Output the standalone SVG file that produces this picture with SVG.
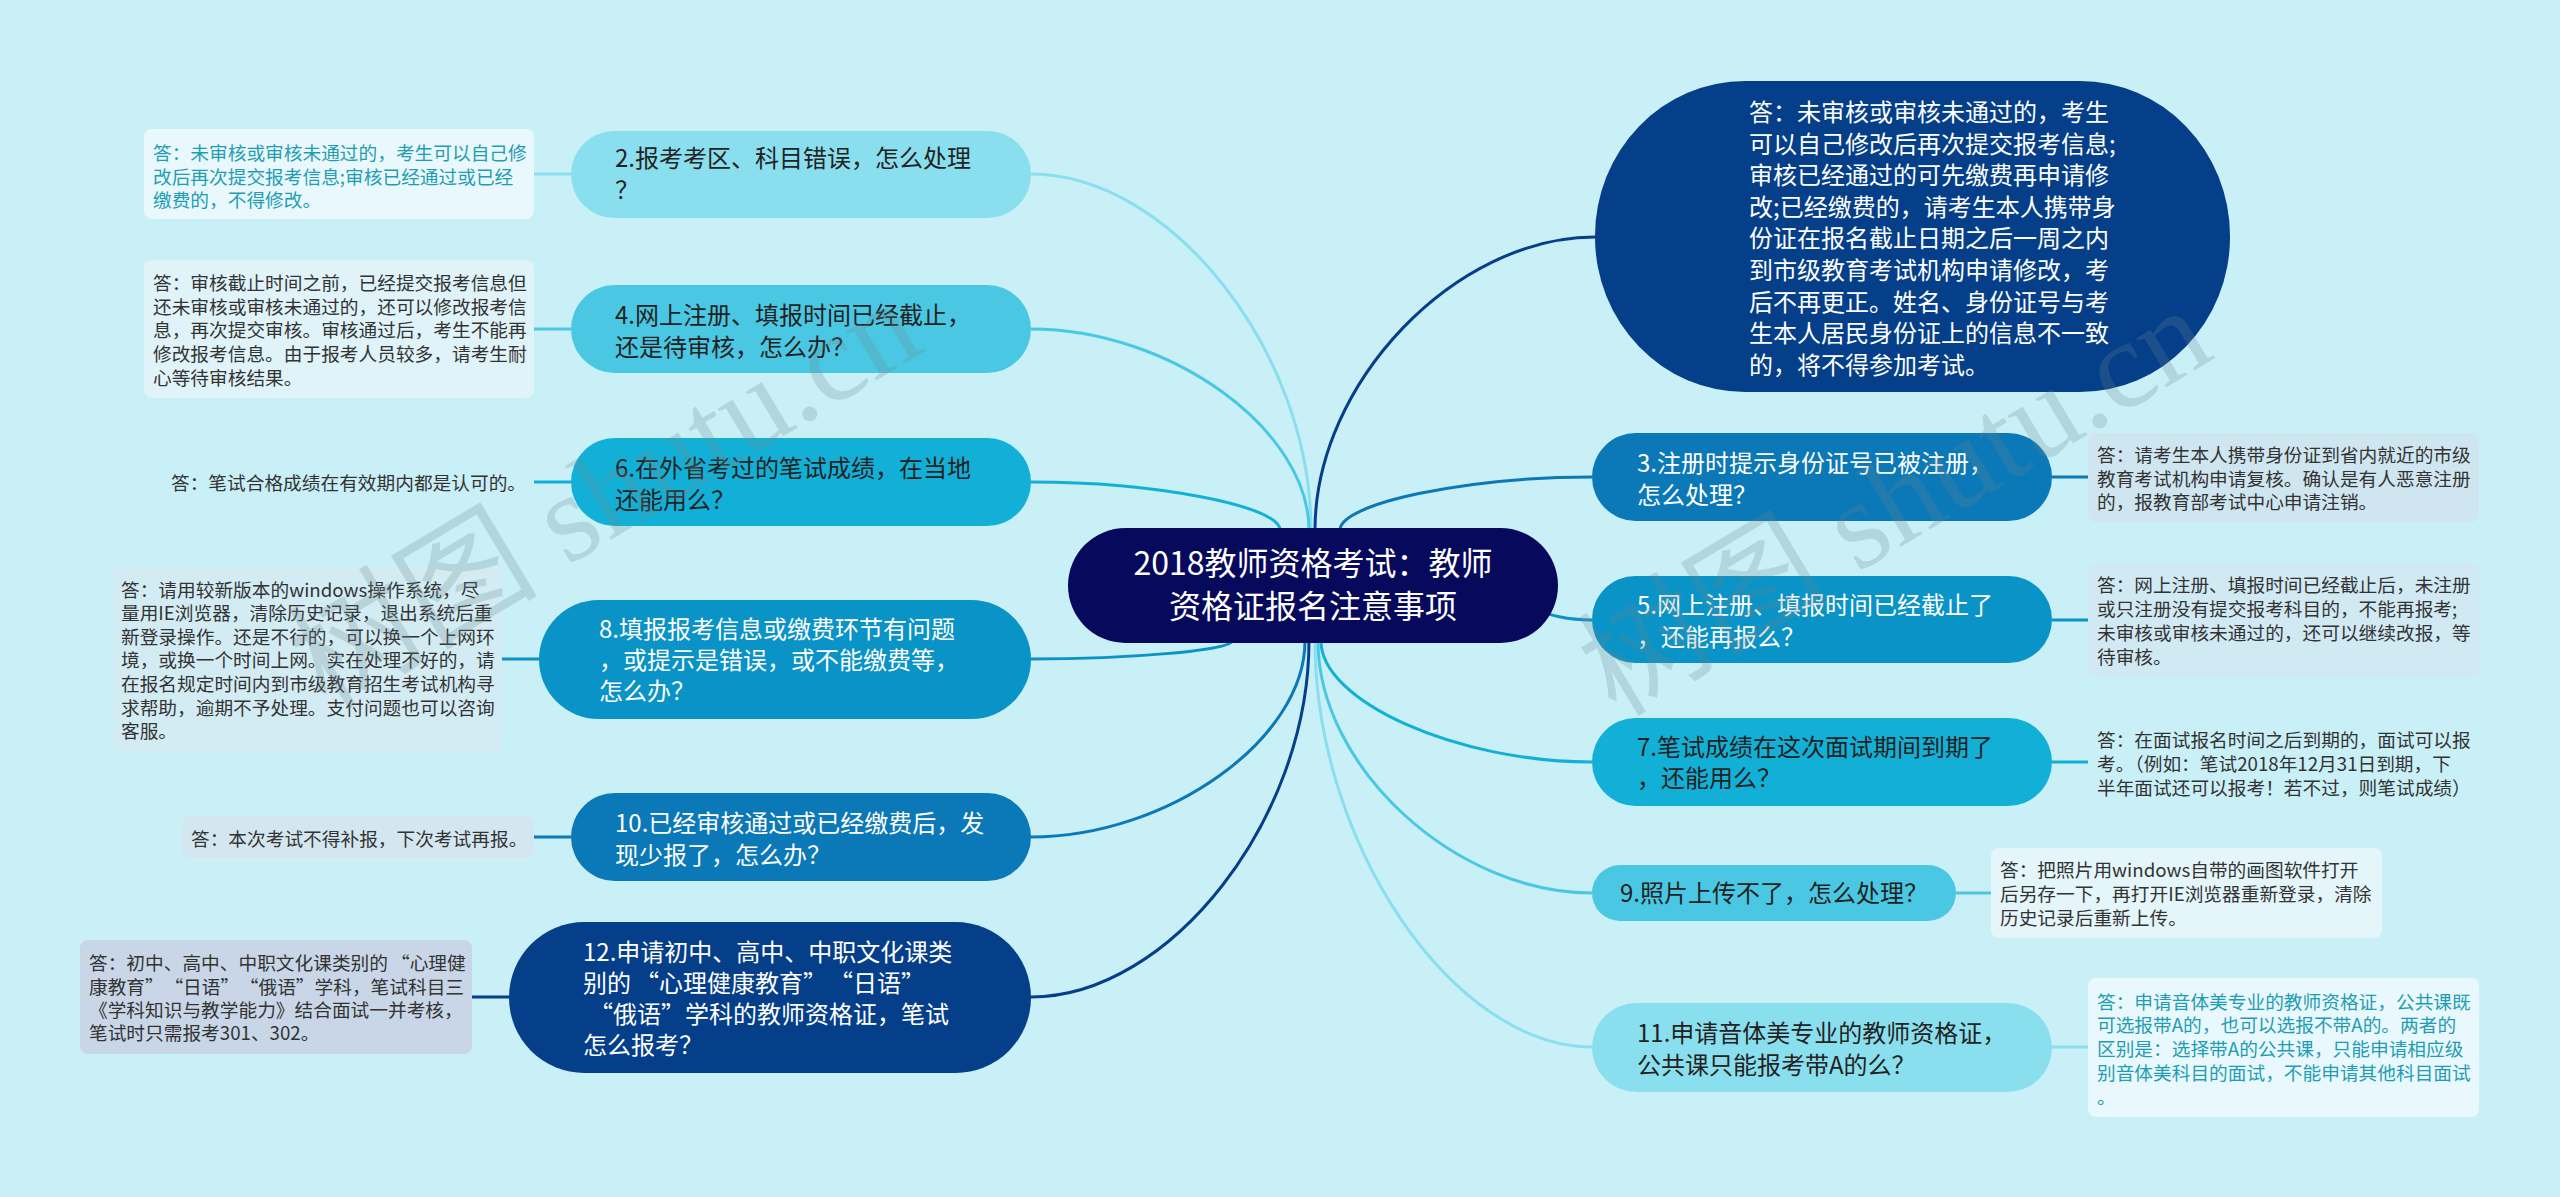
<svg xmlns="http://www.w3.org/2000/svg" width="2560" height="1197" viewBox="0 0 2560 1197">
<style>
text{font-family:"Noto Sans CJK SC","Liberation Sans",sans-serif}
.t{font-size:24px}
.a{font-size:18.7px;fill:#333333}
.tl{fill:#1f9db3}
.w{fill:#ffffff}
.d{fill:#222222}
.ctr{font-size:32px;fill:#ffffff;text-anchor:middle}
.c{fill:none;stroke-width:3}
.wm{font-family:"Liberation Serif","Noto Sans CJK SC",serif;font-size:125px;fill:#6a8890;opacity:0.24}
</style>
<rect x="0" y="0" width="2560" height="1197" fill="#c9eff7"/>

<g id="connectors">
<path class="c" stroke="#8adfef" d="M1311 530 C1311 352 1171 174 1031 174"/>
<path class="c" stroke="#4ac8e3" d="M1309 530 C1309 429.5 1170 329 1031 329"/>
<path class="c" stroke="#12b0d6" d="M1280 530 C1280 506 1155.5 482 1031 482"/>
<path class="c" stroke="#0a93c6" d="M1232 641 C1232 650 1131.5 659 1031 659"/>
<path class="c" stroke="#0b78b7" d="M1305 641 C1305 739 1168 837 1031 837"/>
<path class="c" stroke="#053f8a" d="M1309 641 C1309 819 1170 997 1031 997"/>
<path class="c" stroke="#053f8a" d="M1315 530 C1315 383 1455 237 1595 237"/>
<path class="c" stroke="#0b78b7" d="M1340 530 C1340 503.5 1466 477 1592 477"/>
<path class="c" stroke="#0a93c6" d="M1480 600 C1530 600 1540 620 1592 620"/>
<path class="c" stroke="#12b0d6" d="M1321 641 C1321 701.5 1456.5 762 1592 762"/>
<path class="c" stroke="#4ac8e3" d="M1318 641 C1318 767 1455 893 1592 893"/>
<path class="c" stroke="#8adfef" d="M1315 641 C1315 844 1453.5 1047 1592 1047"/>
<path class="c" stroke="#8adfef" d="M534 174 H571"/>
<path class="c" stroke="#4ac8e3" d="M534 329 H571"/>
<path class="c" stroke="#12b0d6" d="M534 482 H571"/>
<path class="c" stroke="#0a93c6" d="M502 659 H539"/>
<path class="c" stroke="#0b78b7" d="M534 837 H571"/>
<path class="c" stroke="#053f8a" d="M472 997 H509"/>
<path class="c" stroke="#0b78b7" d="M2052 477 H2088"/>
<path class="c" stroke="#0a93c6" d="M2052 620 H2088"/>
<path class="c" stroke="#12b0d6" d="M2052 762 H2088"/>
<path class="c" stroke="#4ac8e3" d="M1956 893 H1991"/>
<path class="c" stroke="#8adfef" d="M2052 1047 H2088"/>
</g>

<g id="center">
<rect x="1068" y="528" width="490" height="115" rx="57.5" fill="#06095c"/>
<text class="ctr" x="1313" y="575">2018教师资格考试：教师</text>
<text class="ctr" x="1313" y="618">资格证报名注意事项</text>
</g>

<g id="q2">
<rect x="571" y="131" width="460" height="87" rx="43.5" fill="#8adfef"/>
<text class="t d" x="615" y="167">2.报考考区、科目错误，怎么处理</text>
<text class="t d" x="615" y="199">？</text>
</g>
<g id="a2">
<rect x="144" y="129" width="390" height="90" rx="8" fill="#e9f8fc"/>
<text class="a tl" x="153" y="160">答：未审核或审核未通过的，考生可以自己修</text>
<text class="a tl" x="153" y="184">改后再次提交报考信息;审核已经通过或已经</text>
<text class="a tl" x="153" y="207">缴费的，不得修改。</text>
</g>

<g id="q4">
<rect x="571" y="285" width="460" height="88" rx="44" fill="#4ac8e3"/>
<text class="t d" x="615" y="324">4.网上注册、填报时间已经截止，</text>
<text class="t d" x="615" y="356">还是待审核，怎么办？</text>
</g>
<g id="a4">
<rect x="144" y="260" width="390" height="138" rx="8" fill="#dff3f9"/>
<text class="a" x="153" y="290">答：审核截止时间之前，已经提交报考信息但</text>
<text class="a" x="153" y="314">还未审核或审核未通过的，还可以修改报考信</text>
<text class="a" x="153" y="337">息，再次提交审核。审核通过后，考生不能再</text>
<text class="a" x="153" y="361">修改报考信息。由于报考人员较多，请考生耐</text>
<text class="a" x="153" y="385">心等待审核结果。</text>
</g>

<g id="q6">
<rect x="571" y="438" width="460" height="88" rx="44" fill="#12b0d6"/>
<text class="t d" x="615" y="477">6.在外省考过的笔试成绩，在当地</text>
<text class="t d" x="615" y="509">还能用么？</text>
</g>
<g id="a6">
<text class="a" x="171" y="490">答：笔试合格成绩在有效期内都是认可的。</text>
</g>

<g id="q8">
<rect x="539" y="600" width="492" height="119" rx="59.5" fill="#0a93c6"/>
<text class="t w" x="599" y="638">8.填报报考信息或缴费环节有问题</text>
<text class="t w" x="599" y="669">，或提示是错误，或不能缴费等，</text>
<text class="t w" x="599" y="700">怎么办？</text>
</g>
<g id="a8">
<rect x="113" y="567" width="389" height="186" rx="8" fill="#d3ecf4"/>
<text class="a" x="121" y="597">答：请用较新版本的windows操作系统，尽</text>
<text class="a" x="121" y="620">量用IE浏览器，清除历史记录，退出系统后重</text>
<text class="a" x="121" y="644">新登录操作。还是不行的，可以换一个上网环</text>
<text class="a" x="121" y="667">境，或换一个时间上网。实在处理不好的，请</text>
<text class="a" x="121" y="691">在报名规定时间内到市级教育招生考试机构寻</text>
<text class="a" x="121" y="715">求帮助，逾期不予处理。支付问题也可以咨询</text>
<text class="a" x="121" y="738">客服。</text>
</g>

<g id="q10">
<rect x="571" y="793" width="460" height="88" rx="44" fill="#0b78b7"/>
<text class="t w" x="615" y="832">10.已经审核通过或已经缴费后，发</text>
<text class="t w" x="615" y="864">现少报了，怎么办？</text>
</g>
<g id="a10">
<rect x="182" y="816" width="352" height="42" rx="8" fill="#d4e7f1"/>
<text class="a" x="191" y="846">答：本次考试不得补报，下次考试再报。</text>
</g>

<g id="q12">
<rect x="509" y="922" width="522" height="151" rx="75.5" fill="#053f8a"/>
<text class="t w" x="583" y="961">12.申请初中、高中、中职文化课类</text>
<text class="t w" x="583" y="992">别的<tspan dx="4">“</tspan>心理健康教育”<tspan dx="14">“</tspan>日语”</text>
<text class="t w" x="589" y="1023">“俄语”学科的教师资格证，笔试</text>
<text class="t w" x="583" y="1054">怎么报考？</text>
</g>
<g id="a12">
<rect x="80" y="940" width="392" height="114" rx="8" fill="#c8d6e7"/>
<text class="a" x="89" y="970">答：初中、高中、中职文化课类别的<tspan dx="3">“</tspan>心理健</text>
<text class="a" x="89" y="994">康教育”<tspan dx="10">“</tspan>日语”<tspan dx="10">“</tspan>俄语”学科，笔试科目三</text>
<text class="a" x="89" y="1017">《学科知识与教学能力》结合面试一并考核，</text>
<text class="a" x="89" y="1040">笔试时只需报考301、302。</text>
</g>

<g id="a1">
<rect x="1595" y="81" width="635" height="311" rx="150" ry="155" fill="#053f8a"/>
<text class="t w" x="1749" y="121">答：未审核或审核未通过的，考生</text>
<text class="t w" x="1749" y="152.6">可以自己修改后再次提交报考信息;</text>
<text class="t w" x="1749" y="184.2">审核已经通过的可先缴费再申请修</text>
<text class="t w" x="1749" y="215.8">改;已经缴费的，请考生本人携带身</text>
<text class="t w" x="1749" y="247.4">份证在报名截止日期之后一周之内</text>
<text class="t w" x="1749" y="279">到市级教育考试机构申请修改，考</text>
<text class="t w" x="1749" y="310.6">后不再更正。姓名、身份证号与考</text>
<text class="t w" x="1749" y="342.2">生本人居民身份证上的信息不一致</text>
<text class="t w" x="1749" y="373.8">的，将不得参加考试。</text>
</g>

<g id="q3">
<rect x="1592" y="433" width="460" height="88" rx="44" fill="#0b78b7"/>
<text class="t w" x="1637" y="472">3.注册时提示身份证号已被注册，</text>
<text class="t w" x="1637" y="504">怎么处理？</text>
</g>
<g id="a3">
<rect x="2088" y="433" width="391" height="89" rx="8" fill="#cfe6f1"/>
<text class="a" x="2097" y="462">答：请考生本人携带身份证到省内就近的市级</text>
<text class="a" x="2097" y="486">教育考试机构申请复核。确认是有人恶意注册</text>
<text class="a" x="2097" y="509">的，报教育部考试中心申请注销。</text>
</g>

<g id="q5">
<rect x="1592" y="576" width="460" height="87" rx="43.5" fill="#0a93c6"/>
<text class="t w" x="1637" y="614">5.网上注册、填报时间已经截止了</text>
<text class="t w" x="1637" y="646">，还能再报么？</text>
</g>
<g id="a5">
<rect x="2088" y="563" width="391" height="114" rx="8" fill="#d1e9f3"/>
<text class="a" x="2097" y="592">答：网上注册、填报时间已经截止后，未注册</text>
<text class="a" x="2097" y="616">或只注册没有提交报考科目的，不能再报考;</text>
<text class="a" x="2097" y="640">未审核或审核未通过的，还可以继续改报，等</text>
<text class="a" x="2097" y="664">待审核。</text>
</g>

<g id="q7">
<rect x="1592" y="718" width="460" height="88" rx="44" fill="#12b0d6"/>
<text class="t d" x="1637" y="756">7.笔试成绩在这次面试期间到期了</text>
<text class="t d" x="1637" y="787">，还能用么？</text>
</g>
<g id="a7">
<text class="a" x="2097" y="747">答：在面试报名时间之后到期的，面试可以报</text>
<text class="a" x="2097" y="771">考。（例如：笔试2018年12月31日到期，下</text>
<text class="a" x="2097" y="795">半年面试还可以报考！若不过，则笔试成绩）</text>
</g>

<g id="q9">
<rect x="1592" y="865" width="364" height="56" rx="28" fill="#4ac8e3"/>
<text class="t d" x="1620" y="902">9.照片上传不了，怎么处理？</text>
</g>
<g id="a9">
<rect x="1991" y="848" width="391" height="90" rx="8" fill="#e4f6fa"/>
<text class="a" x="2000" y="877">答：把照片用windows自带的画图软件打开</text>
<text class="a" x="2000" y="901">后另存一下，再打开IE浏览器重新登录，清除</text>
<text class="a" x="2000" y="925">历史记录后重新上传。</text>
</g>

<g id="q11">
<rect x="1592" y="1003" width="460" height="89" rx="44.5" fill="#8adfef"/>
<text class="t d" x="1637" y="1042">11.申请音体美专业的教师资格证，</text>
<text class="t d" x="1637" y="1074">公共课只能报考带A的么？</text>
</g>
<g id="a11">
<rect x="2088" y="978" width="391" height="139" rx="8" fill="#e8f8fc"/>
<text class="a tl" x="2097" y="1009">答：申请音体美专业的教师资格证，公共课既</text>
<text class="a tl" x="2097" y="1032">可选报带A的，也可以选报不带A的。两者的</text>
<text class="a tl" x="2097" y="1056">区别是：选择带A的公共课，只能申请相应级</text>
<text class="a tl" x="2097" y="1080">别音体美科目的面试，不能申请其他科目面试</text>
<text class="a tl" x="2097" y="1104">。</text>
</g>

<g id="watermark">
<text class="wm" x="326" y="711" transform="rotate(-31 326 711)">树图 shutu.cn</text>
<text class="wm" x="1616" y="718" transform="rotate(-31 1616 718)">树图 shutu.cn</text>
</g>
</svg>
